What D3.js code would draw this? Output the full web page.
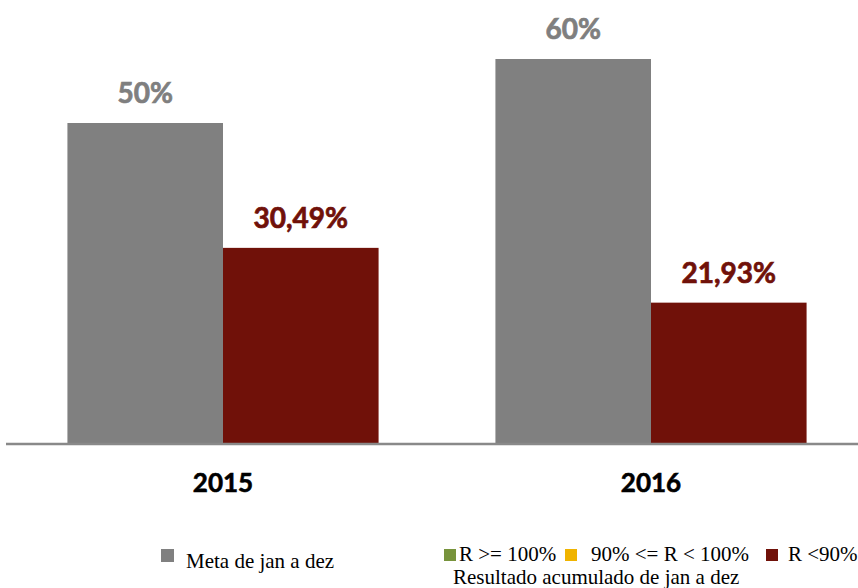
<!DOCTYPE html>
<html>
<head>
<meta charset="utf-8">
<script src="https://cdn.jsdelivr.net/npm/d3@7"></script>
<style>
  html, body { margin: 0; padding: 0; background: #ffffff; }
  svg { display: block; }
</style>
</head>
<body>
<script>
// ---- data ----
const categories = ["2015", "2016"];
const seriesNames = ["Meta de jan a dez", "Resultado acumulado de jan a dez"];
const metaValues = [50, 60];
const resultValues = [30.49, 21.93];
const metaLabels = ["50%", "60%"];
const resultLabels = ["30,49%", "21,93%"];
const legendStatusLabels = ["R >= 100%", "90% <= R < 100%", "R <90%"];

// ---- layout ----
const W = 858, H = 588;
const baseY = 443;
const svg = d3.select("body").append("svg").attr("width", W).attr("height", H);

const x = d3.scaleBand().domain(categories).range([9, 865])
  .paddingInner(0.273).paddingOuter(0.1365);
const sub = d3.scaleBand().domain(["meta", "result"]).range([0, x.bandwidth()]);
const y = d3.scaleLinear().domain([0, 10]).range([baseY, baseY - 64]);

const gray = "#808080";
const red = "#701109";
const labelFont = "Lato, 'Open Sans', sans-serif";
const serif = "'Liberation Serif', 'DejaVu Serif', serif";

const rows = categories.map((c, i) => ({
  cat: c, meta: metaValues[i], result: resultValues[i],
  metaLabel: metaLabels[i], resultLabel: resultLabels[i]
}));

// bars
const g = svg.append("g");
g.selectAll("rect.meta").data(rows).join("rect").attr("class", "meta")
  .attr("x", d => x(d.cat) + sub("meta"))
  .attr("y", d => y(d.meta))
  .attr("width", sub.bandwidth())
  .attr("height", d => baseY - y(d.meta))
  .attr("fill", gray);
g.selectAll("rect.result").data(rows).join("rect").attr("class", "result")
  .attr("x", d => x(d.cat) + sub("result"))
  .attr("y", d => y(d.result))
  .attr("width", sub.bandwidth())
  .attr("height", d => baseY - y(d.result))
  .attr("fill", red);

// value labels
g.selectAll("text.ml").data(rows).join("text").attr("class", "ml")
  .attr("x", d => x(d.cat) + sub("meta") + sub.bandwidth() / 2)
  .attr("y", d => y(d.meta) - 20)
  .attr("text-anchor", "middle")
  .attr("font-family", labelFont).attr("font-weight", "bold").attr("font-size", 28)
  .attr("fill", "#7f7f7f").attr("stroke", "#7f7f7f").attr("stroke-width", 0.7)
  .text(d => d.metaLabel);
g.selectAll("text.rl").data(rows).join("text").attr("class", "rl")
  .attr("x", d => x(d.cat) + sub("result") + sub.bandwidth() / 2)
  .attr("y", d => y(d.result) - 20)
  .attr("text-anchor", "middle")
  .attr("font-family", labelFont).attr("font-weight", "bold").attr("font-size", 28)
  .attr("fill", red).attr("stroke", red).attr("stroke-width", 0.7)
  .text(d => d.resultLabel);

// axis
const axis = d3.axisBottom(x).tickSize(0).tickPadding(0);
const ax = svg.append("g").attr("transform", `translate(0,${baseY})`).call(axis);
ax.select(".domain").remove();
svg.append("line").attr("x1", 6).attr("x2", 858).attr("y1", baseY + 1).attr("y2", baseY + 1)
  .attr("stroke", "#898989").attr("stroke-width", 2.5);
ax.selectAll(".tick text")
  .attr("y", 49).attr("dy", 0)
  .attr("font-family", labelFont).attr("font-weight", "bold").attr("font-size", 26)
  .attr("fill", "#000").attr("stroke", "#000").attr("stroke-width", 0.6);

// legend
const lg = svg.append("g");
lg.append("rect").attr("x", 161).attr("y", 549).attr("width", 13).attr("height", 13).attr("fill", gray);
lg.append("text").attr("x", 186).attr("y", 568).attr("font-family", serif).attr("font-size", 21)
  .attr("fill", "#000").text(seriesNames[0]);

const statusColors = ["#77933c", "#f0b400", red];
const sqX = [444, 565, 766];
const txX = [459, 591, 788];
legendStatusLabels.forEach((t, i) => {
  lg.append("rect").attr("x", sqX[i]).attr("y", 549).attr("width", 12).attr("height", 12).attr("fill", statusColors[i]);
  lg.append("text").attr("x", txX[i]).attr("y", 561).attr("font-family", serif).attr("font-size", 21)
    .attr("fill", "#000").text(t);
});
lg.append("text").attr("x", 453).attr("y", 584).attr("font-family", serif).attr("font-size", 21)
  .attr("fill", "#000").text(seriesNames[1]);
</script>
</body>
</html>
